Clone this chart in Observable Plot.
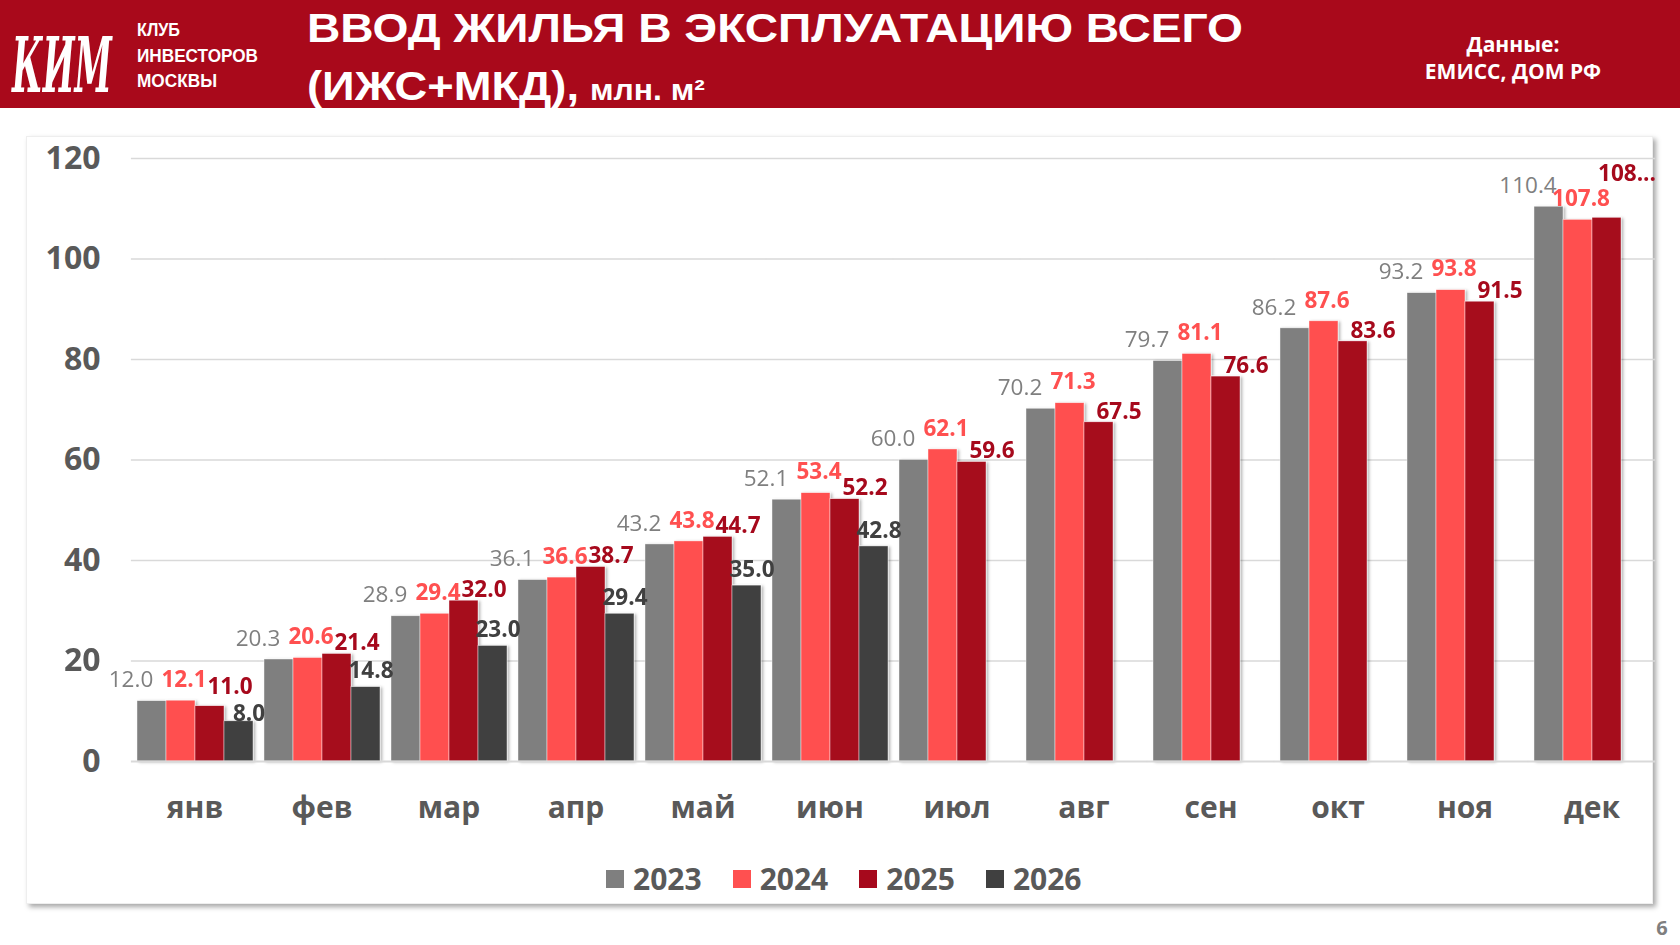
<!DOCTYPE html>
<html>
<head>
<meta charset="utf-8">
<script src="https://cdn.jsdelivr.net/npm/d3@7"></script>
<script src="https://cdn.jsdelivr.net/npm/@observablehq/plot@0.6"></script>
<style>
  html, body { margin: 0; padding: 0; background: #fff; width: 1680px; height: 945px; overflow: hidden; font-family: "Open Sans", sans-serif; }
  #deco { position: absolute; left: 0; top: 0; }
  #panel { position: absolute; left: 26px; top: 136px; width: 1627px; height: 768px; background: #fff;
           box-shadow: 3px 3px 5px rgba(0,0,0,0.35); border: 1px solid #eeeeee; box-sizing: border-box; }
  #chart { position: absolute; left: 0; top: 130px; }
  #legend { position: absolute; left: 606px; top: 862px; display: flex; align-items: center; height: 34px; }
  .item { display: flex; align-items: center; margin-right: 31px; }
  .sw { width: 18px; height: 18px; margin-right: 9px; }
  .lt { font-family: "Open Sans", sans-serif; font-weight: 700; font-size: 30px; color: #595959; line-height: 34px; }
</style>
</head>
<body>
<svg id="deco" width="1680" height="945" xmlns="http://www.w3.org/2000/svg">
  <rect x="0" y="0" width="1680" height="108" fill="#A9091B"></rect>
  <text transform="translate(12,92) scale(1,1.9)" fill="#fff" font-family="DejaVu Serif" font-style="italic" font-weight="bold" font-size="40" textLength="100" lengthAdjust="spacingAndGlyphs">КИМ</text>
  <g fill="#fff" font-family="Liberation Sans" font-weight="bold" font-size="18">
    <text x="137" y="36" textLength="43" lengthAdjust="spacingAndGlyphs">КЛУБ</text>
    <text x="137" y="62" textLength="121" lengthAdjust="spacingAndGlyphs">ИНВЕСТОРОВ</text>
    <text x="137" y="87" textLength="80" lengthAdjust="spacingAndGlyphs">МОСКВЫ</text>
  </g>
  <g fill="#fff" font-family="Liberation Sans" font-weight="bold">
    <text x="307" y="42" font-size="41" textLength="936" lengthAdjust="spacingAndGlyphs">ВВОД ЖИЛЬЯ В ЭКСПЛУАТАЦИЮ ВСЕГО</text>
    <text x="307" y="100" font-size="41" textLength="272" lengthAdjust="spacingAndGlyphs">(ИЖС+МКД),</text>
    <text x="590" y="100" font-size="29" textLength="115" lengthAdjust="spacingAndGlyphs">млн. м²</text>
  </g>
  <g fill="#fff" font-family="Open Sans" font-weight="bold" font-size="21" text-anchor="middle">
    <text x="1513" y="52">Данные:</text>
    <text x="1513" y="79">ЕМИСС, ДОМ РФ</text>
  </g>
  <text x="1662" y="935" fill="#7F7F7F" font-family="Open Sans" font-weight="bold" font-size="20" text-anchor="middle">6</text>
</svg>
<div id="panel"></div>
<div id="chart"></div>
<div id="legend"></div>
<script>
const months = ["янв","фев","мар","апр","май","июн","июл","авг","сен","окт","ноя","дек"];
const years = ["2023","2024","2025","2026"];
const colors = ["#7F7F7F","#FF5050","#A6091C","#404040"];
const v2023 = [12.0, 20.3, 28.9, 36.1, 43.2, 52.1, 60.0, 70.2, 79.7, 86.2, 93.2, 110.4];
const v2024 = [12.1, 20.6, 29.4, 36.6, 43.8, 53.4, 62.1, 71.3, 81.1, 87.6, 93.8, 107.8];
const v2025 = [11.0, 21.4, 32.0, 38.7, 44.7, 52.2, 59.6, 67.5, 76.6, 83.6, 91.5, 108.2];
const v2026 = [8.0, 14.8, 23.0, 29.4, 35.0, 42.8];
const yTicks = [0, 20, 40, 60, 80, 100, 120];
const clippedLabels = [{year: "2025", month: "дек", text: "108..."}];

// label placement tweaks (styling only)
const labelStyle = {
  "2023": {dx: -21, dy: -21, fontWeight: "normal"},
  "2024": {dx: 3, dy: -21, fontWeight: "bold"},
  "2025": {dx: 20, dy: -11, fontWeight: "bold"},
  "2026": {dx: 5, dy: -16, fontWeight: "bold"}
};
const labelNudges = [
  {year: "2025", month: "янв", dx: 20, dy: -19},
  {year: "2026", month: "янв", dx: 10, dy: -8},
  {year: "2025", month: "дек", dx: 20, dy: -44}
];

const series = [v2023, v2024, v2025, v2026];
const data = years.flatMap((yr, i) => series[i].map((v, j) => ({year: yr, month: months[j], value: v})));
const match = (list, d) => list.find(c => c.year === d.year && c.month === d.month);
const labelOf = d => { const c = match(clippedLabels, d); return c ? c.text : d.value.toFixed(1); };
const yearIndex = yr => years.indexOf(yr);

const chart = Plot.plot({
  width: 1680,
  height: 720,
  marginLeft: 131,
  marginRight: 26,
  marginTop: 28,
  marginBottom: 89,
  fx: {domain: months, padding: 0.08, label: null},
  x: {domain: years, padding: 0, axis: null},
  y: {domain: [0, 120], label: null},
  color: {domain: years, range: colors},
  style: {fontFamily: "Open Sans", color: "#595959", background: "transparent", overflow: "visible"},
  marks: [
    Plot.ruleY(yTicks.filter(t => t > 0), {stroke: "#D9D9D9", strokeWidth: 1.3, insetLeft: -5.1, insetRight: -5.1}),
    Plot.barY(data, {fx: "month", x: "year", y: "value", fill: "year", stroke: "#ffffff", strokeWidth: 0.6, strokeOpacity: 0.7}),
    Plot.ruleY([0], {stroke: "#D9D9D9", strokeWidth: 2, insetLeft: -5.1, insetRight: -5.1}),
    ...years.map((yr, i) => Plot.text(data.filter(d => d.year === yr && !match(labelNudges, d)), {
      fx: "month", x: "year", y: "value", text: labelOf,
      fill: colors[i], fontSize: 22.5, ...labelStyle[yr]
    })),
    ...labelNudges.map(n => Plot.text(data.filter(d => d.year === n.year && d.month === n.month), {
      fx: "month", x: "year", y: "value", text: labelOf,
      fill: colors[yearIndex(n.year)], fontSize: 22.5, fontWeight: labelStyle[n.year].fontWeight, dx: n.dx, dy: n.dy
    })),
    Plot.axisY(yTicks, {anchor: "left", tickSize: 0, tickPadding: 36, fontSize: 32, fontWeight: "bold", label: null}),
    Plot.axisFx({anchor: "bottom", tickSize: 0, tickPadding: 35, fontSize: 30, fontWeight: "bold", label: null})
  ]
});

// subtle drop shadow under bars, as in the original
const ns = "http://www.w3.org/2000/svg";
const defs = document.createElementNS(ns, "defs");
defs.innerHTML = '<filter id="barShadow" x="-20%" y="-5%" width="150%" height="115%"><feDropShadow dx="2" dy="1" stdDeviation="1.4" flood-color="#000" flood-opacity="0.3"/></filter>';
chart.insertBefore(defs, chart.firstChild);
chart.querySelectorAll('g[aria-label="bar"]').forEach(g => g.setAttribute("filter", "url(#barShadow)"));
document.getElementById("chart").appendChild(chart);

const legend = document.getElementById("legend");
years.forEach((yr, i) => {
  const item = document.createElement("div");
  item.className = "item";
  const sw = document.createElement("div");
  sw.className = "sw";
  sw.style.background = colors[i];
  const t = document.createElement("span");
  t.className = "lt";
  t.textContent = yr;
  item.appendChild(sw);
  item.appendChild(t);
  legend.appendChild(item);
});
</script>
</body>
</html>
